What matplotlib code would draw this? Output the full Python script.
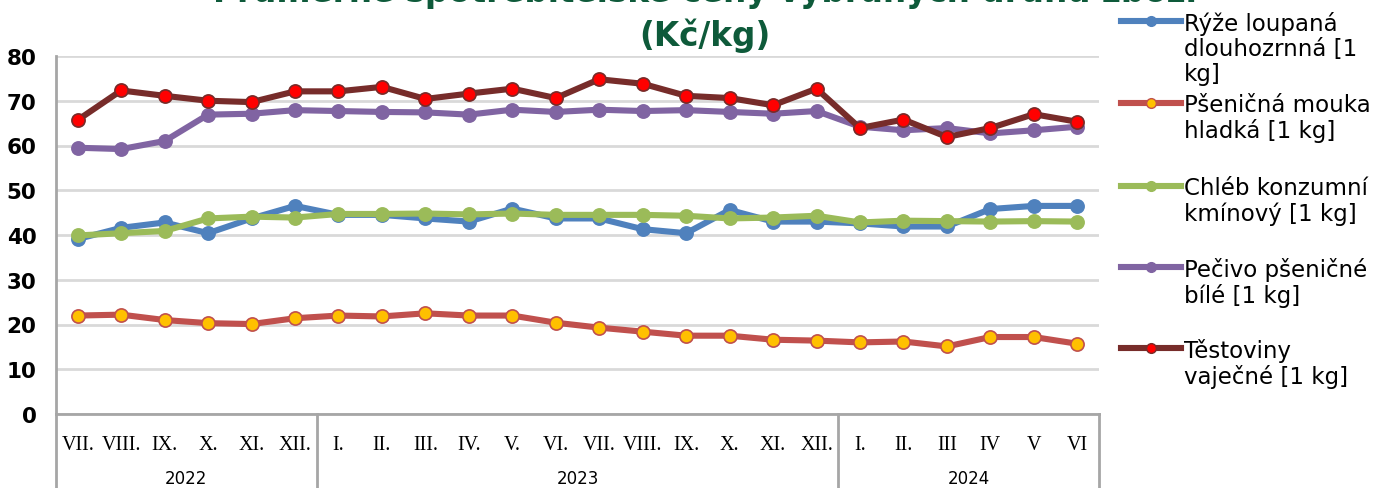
import numpy as np
import matplotlib
matplotlib.use("Agg")
import matplotlib.pyplot as plt
from matplotlib.lines import Line2D
from matplotlib import transforms

# --- data ------------------------------------------------------------------
months = ["VII.", "VIII.", "IX.", "X.", "XI.", "XII.",
          "I.", "II.", "III.", "IV.", "V.", "VI.", "VII.", "VIII.", "IX.", "X.", "XI.", "XII.",
          "I.", "II.", "III", "IV", "V", "VI"]
years = ["2022", "2023", "2024"]
year_len = [6, 12, 6]

ryze = [39.1, 41.6, 42.8, 40.4, 43.7, 46.5, 44.5, 44.5, 43.7, 43.0, 45.9, 43.7,
        43.7, 41.3, 40.4, 45.6, 43.0, 43.0, 42.6, 41.9, 41.9, 45.8, 46.5, 46.5]
mouka = [22.0, 22.2, 21.0, 20.3, 20.1, 21.4, 22.0, 21.8, 22.5, 22.0, 22.0, 20.4,
         19.3, 18.4, 17.5, 17.5, 16.6, 16.4, 16.0, 16.2, 15.1, 17.2, 17.2, 15.7]
chleb = [39.9, 40.4, 40.9, 43.7, 44.1, 43.9, 44.7, 44.7, 44.8, 44.6, 44.8, 44.5,
         44.5, 44.5, 44.3, 43.7, 43.9, 44.3, 42.8, 43.2, 43.1, 43.0, 43.1, 43.0]
pecivo = [59.5, 59.2, 61.0, 66.9, 67.1, 67.9, 67.7, 67.5, 67.4, 66.9, 68.0, 67.5,
          68.0, 67.7, 67.9, 67.5, 67.1, 67.7, 64.2, 63.4, 63.9, 62.7, 63.4, 64.2]
testoviny = [65.7, 72.3, 71.1, 70.0, 69.7, 72.1, 72.1, 73.1, 70.4, 71.6, 72.7, 70.6,
             74.8, 73.8, 71.1, 70.6, 69.0, 72.7, 63.9, 65.8, 61.9, 63.9, 67.0, 65.3]

labels = ["Rýže loupaná\ndlouhozrnná [1\nkg]", "Pšeničná mouka\nhladká [1 kg]",
          "Chléb konzumní\nkmínový [1 kg]", "Pečivo pšeničné\nbílé [1 kg]",
          "Těstoviny\nvaječné [1 kg]"]

# line colour, marker face, marker edge
styles = [("#4F81BD", "#4F81BD", "#4F81BD"),
          ("#C0504D", "#FFC000", "#C0504D"),
          ("#9BBB59", "#9BBB59", "#9BBB59"),
          ("#8064A2", "#8064A2", "#8064A2"),
          ("#772C2A", "#FF0000", "#772C2A")]
series = [ryze, mouka, chleb, pecivo, testoviny]

W, H = 1389, 489
fig = plt.figure(figsize=(W / 100, H / 100), dpi=100)
ax = fig.add_axes([56 / W, 1 - 415 / H, (1099 - 56) / W, (415 - 57) / H])

x = np.arange(len(months))
for vals, (lc, mf, me) in zip(series, styles):
    ax.plot(x, vals, color=lc, lw=4.4, marker="o", ms=9.5, mfc=mf, mec=me, mew=1.2,
            solid_joinstyle="round", zorder=3)

ax.set_xlim(-0.5, len(months) - 0.5)
ax.set_ylim(0, 80)
ax.set_yticks(range(0, 81, 10))
ax.yaxis.grid(True, color="#D9D9D9", lw=2)
ax.set_axisbelow(True)
ax.tick_params(axis="y", length=0, pad=14, labelsize=15.5)
for t in ax.get_yticklabels():
    t.set_fontweight("bold")
for s in ["top", "right"]:
    ax.spines[s].set_visible(False)
ax.spines["left"].set_color("#A6A6A6")
ax.spines["left"].set_linewidth(2)
ax.spines["bottom"].set_color("#A6A6A6")
ax.spines["bottom"].set_linewidth(2)

ax.set_xticks(x)
ax.set_xticklabels(months, family="Liberation Serif", fontsize=14.5)
ax.tick_params(axis="x", length=0, pad=15)

# year groups with separators
tr = transforms.blended_transform_factory(ax.transData, ax.transAxes)
edges = np.concatenate([[0], np.cumsum(year_len)]) - 0.5
for e in edges:
    ax.plot([e, e], [0, -0.21], transform=tr, color="#A6A6A6", lw=2, clip_on=False)
for y, a, b in zip(years, edges[:-1], edges[1:]):
    ax.text((a + b) / 2, -0.178, y, transform=tr, ha="center", va="center", fontsize=12)

# title
fig.text(705 / W, 1 - 53 / H, "Průměrné spotřebitelské ceny vybraných druhů zboží\n(Kč/kg)",
         ha="center", va="bottom", fontsize=23.5, fontweight="bold", color="#0E5A3A",
         linespacing=1.35)

# legend (manual, handle aligned with first text line)
leg_y = [22, 104, 187, 268, 349]
for lab, (lc, mf, me), yy in zip(labels, styles, leg_y):
    yf = 1 - yy / H
    fig.add_artist(Line2D([1121 / W, 1181 / W], [yf, yf], color=lc, lw=4.4,
                          transform=fig.transFigure))
    fig.add_artist(Line2D([1151 / W], [yf], marker="o", ms=7, mfc=mf, mec=me, mew=1,
                          transform=fig.transFigure))
    fig.text(1184 / W, yf + 10 / H, lab, ha="left", va="top", fontsize=16.5, linespacing=1.12)

fig.savefig("out.png", dpi=100)
